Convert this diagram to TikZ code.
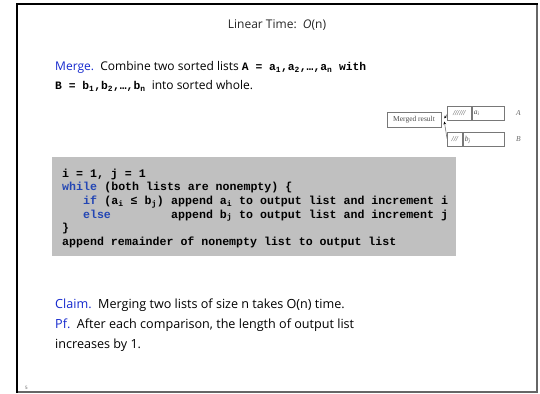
\documentclass[tikz,border=0pt]{standalone}
\usepackage{fontspec}
\setmainfont{Open Sans}
\newfontfamily\courfont{Liberation Mono}
\newfontfamily\figfont{Liberation Serif}
\usetikzlibrary{arrows.meta}
\definecolor{hdblue}{RGB}{20,40,205}
\definecolor{kwblue}{RGB}{35,70,180}
\definecolor{codegray}{RGB}{192,192,192}
\definecolor{figgray}{RGB}{120,120,120}
\begin{document}
\begin{tikzpicture}[x=1pt,y=-1pt,
  txt/.style={anchor=base west,inner sep=0pt,font=\fontsize{12}{14}\selectfont},
  txtb/.style={anchor=base west,inner sep=0pt,font=\fontsize{12.6}{14}\selectfont},
  ttl/.style={anchor=base,inner sep=0pt,font=\fontsize{12}{14}\selectfont,text=black!85},
  codet/.style={anchor=base west,inner sep=0pt,font=\courfont\bfseries\fontsize{11.6}{13}\selectfont},
  kw/.style={codet,text=kwblue},
  figbox/.style={draw=figgray,line width=0.6pt,inner sep=0pt,minimum height=14.5pt,font=\figfont\fontsize{7.5}{8}\selectfont,text=black!70},
  figlab/.style={inner sep=0pt,font=\figfont\itshape\fontsize{7.5}{8}\selectfont,text=black!60},
  figline/.style={draw=figgray,line width=0.6pt,-{Stealth[length=3pt,width=2.6pt,black]}}]
\useasboundingbox (0,0) rectangle (540,393);
% frame
\draw[line width=2pt,black!60,line cap=rect] (537,4) -- (537,392) -- (17,392);
\draw[line width=2pt,black,line cap=rect] (17,392) -- (17,4) -- (537,4);
% title
\node[ttl] (title) at (277,29) {Linear Time:\ \ \textit{O}(n)};
% merge text
\node[txt] (m1) at (55,71) {\textcolor{hdblue}{Merge.}\ \ Combine two sorted lists {\courfont\bfseries\fontsize{11.3}{12}\selectfont A = a\textsubscript{1},a\textsubscript{2},…,a\textsubscript{n} with}};
\node[txt] (m2) at (55,90) {{\courfont\bfseries\fontsize{11.3}{12}\selectfont B = b\textsubscript{1},b\textsubscript{2},…,b\textsubscript{n}}\ \ into sorted whole.};
% figure
\node[figbox,minimum width=54pt,minimum height=15.5pt] (mr) at (414,120) {Merged result};
\node[figbox,minimum width=24pt,anchor=west] (ah) at (447,113.5) {\itshape //////};
\node[figbox,minimum width=32pt,anchor=west,text width=28pt,align=left] (ar) at (ah.east) {\itshape a\textsubscript{i}};
\node[figbox,minimum width=15pt,anchor=west] (bh) at (447,139.5) {\itshape ///};
\node[figbox,minimum width=41pt,anchor=west,text width=37pt,align=left] (br) at (bh.east) {\itshape b\textsubscript{j}};
\node[figlab,anchor=west] (la) at (516,113.5) {A};
\node[figlab,anchor=west] (lb) at (516,139.5) {B};
\draw[figline] ([yshift=-1pt]ah.west) -- ([xshift=3pt,yshift=1.5pt]mr.east);
\draw[figline] ([yshift=1pt]bh.west) -- ([xshift=3pt,yshift=-1.5pt]mr.east);
% code box
\fill[codegray] (52,157) rectangle (456,256);
\node[codet] (c1) at (62,177) {i = 1, j = 1};
\node[kw] (c2k) at (62,190.7) {while};
\node[codet,anchor=base west] (c2) at (c2k.base east) {\ (both lists are nonempty) \{};
\node[kw] (c3k) at (62,204.4) {\ \ \ if};
\node[codet] (c3a) at (c3k.base east) {\ (a\textsubscript{i} ≤ b\textsubscript{j})};
\node[codet] (c3b) at (c3a.base east) {\ append a\textsubscript{i} to output list and increment i};
\node[kw] (c4k) at (62,218.1) {\ \ \ else};
\node[codet] (c4b) at (c3b.base west |- c4k.base) {\ append b\textsubscript{j} to output list and increment j};
\node[codet] (c5) at (62,231.8) {\}};
\node[codet] (c6) at (62,245.5) {append remainder of nonempty list to output list};
% claim
\node[txtb] (cl) at (55,308) {\textcolor{hdblue}{Claim.}\ \ Merging two lists of size n takes O(n) time.};
\node[txtb] (pf) at (55,328) {\textcolor{hdblue}{Pf.}\ \ After each comparison, the length of output list};
\node[txtb] (pf2) at (55,348) {increases by 1.};
\node[anchor=base west,inner sep=0pt,font=\fontsize{4.5}{5}\selectfont,text=black!70] (pg) at (25,389) {5};
\end{tikzpicture}
\end{document}
